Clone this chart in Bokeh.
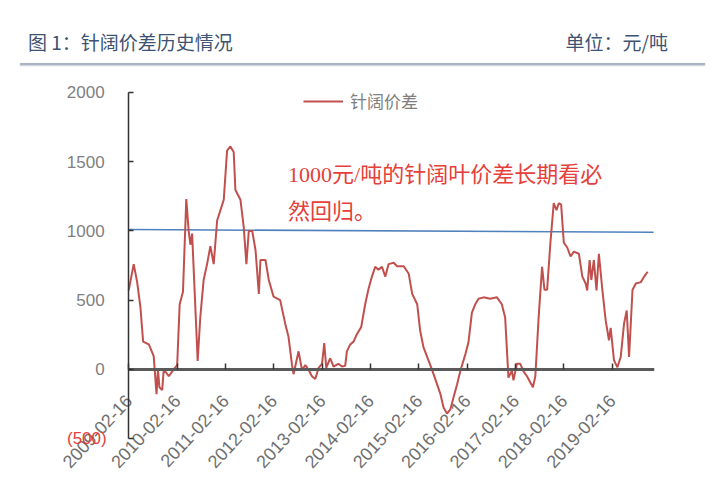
import pandas as pd
from bokeh.plotting import figure
from bokeh.models import (Range1d, FixedTicker, DatetimeAxis, LinearAxis, DatetimeTickFormatter,
                          Label, Legend, LegendItem, Div)
from bokeh.layouts import column
from bokeh.embed import file_html
from bokeh.resources import INLINE

# ---------------- data ----------------
title_left = "图 1：针阔价差历史情况"
title_right = "单位：元/吨"
series_name = "针阔价差"
note_line1 = "1000元/吨的针阔叶价差长期看必"
note_line2 = "然回归。"

dates = [
    "2009-02-16", "2009-03-26", "2009-04-21", "2009-05-16", "2009-06-05", "2009-07-18",
    "2009-08-24", "2009-09-14", "2009-09-25", "2009-10-06", "2009-10-27", "2009-11-08",
    "2009-12-16", "2010-01-22", "2010-02-17", "2010-03-08", "2010-04-02", "2010-04-27",
    "2010-05-15", "2010-05-28", "2010-06-10", "2010-06-22", "2010-07-22", "2010-08-11",
    "2010-09-05", "2010-10-01", "2010-10-26", "2010-11-20", "2010-12-16", "2011-01-10",
    "2011-02-04", "2011-03-01", "2011-03-26", "2011-04-20", "2011-05-03", "2011-06-10",
    "2011-07-05", "2011-07-25", "2011-08-12", "2011-09-07", "2011-10-02", "2011-10-27",
    "2011-11-08", "2011-12-16", "2012-01-10", "2012-02-15", "2012-04-05", "2012-05-13",
    "2012-06-07", "2012-07-03", "2012-07-15", "2012-08-22", "2012-09-17", "2012-10-12",
    "2012-11-03", "2012-12-01", "2012-12-26", "2013-01-20", "2013-02-15", "2013-03-04",
    "2013-03-19", "2013-04-18", "2013-05-13", "2013-06-18", "2013-07-16", "2013-08-09",
    "2013-08-22", "2013-09-16", "2013-10-11", "2013-11-06", "2013-12-08", "2014-01-07",
    "2014-02-01", "2014-02-27", "2014-03-24", "2014-04-18", "2014-05-14", "2014-06-08",
    "2014-07-03", "2014-08-10", "2014-09-05", "2014-10-25", "2014-12-02", "2014-12-28",
    "2015-02-04", "2015-02-26", "2015-03-23", "2015-04-30", "2015-05-26", "2015-07-03",
    "2015-07-28", "2015-08-22", "2015-09-17", "2015-10-12", "2015-11-06", "2015-12-02",
    "2015-12-27", "2016-02-03", "2016-02-26", "2016-03-23", "2016-04-17", "2016-05-12",
    "2016-06-19", "2016-08-08", "2016-09-28", "2016-11-04", "2016-11-29", "2016-12-24",
    "2017-01-19", "2017-01-31", "2017-02-26", "2017-03-23", "2017-04-17", "2017-05-13",
    "2017-06-27", "2017-07-15", "2017-08-09", "2017-09-04", "2017-09-22", "2017-10-12",
    "2017-11-06", "2017-12-01", "2017-12-22", "2018-01-08", "2018-01-26", "2018-02-15",
    "2018-03-13", "2018-04-07", "2018-05-02", "2018-06-09", "2018-07-05", "2018-07-30",
    "2018-08-11", "2018-08-29", "2018-09-11", "2018-09-30", "2018-10-20", "2018-11-07",
    "2018-12-03", "2018-12-28", "2019-01-22", "2019-02-04", "2019-03-01", "2019-03-27",
    "2019-04-21", "2019-05-16", "2019-06-05", "2019-06-23", "2019-07-19", "2019-08-13",
    "2019-09-20", "2019-10-15", "2019-11-10",
]
spread = [
    570, 760, 630, 445, 200, 180,
    95, -180, 0, -130, -150, 0,
    -50, 0, 30, 470, 560, 1230,
    1000, 900, 980, 720, 60, 380,
    645, 760, 890, 760, 1075, 1150,
    1225, 1580, 1610, 1570, 1295, 1225,
    1025, 760, 1000, 1000, 860, 545,
    790, 790, 645, 525, 500, 330,
    235, 35, -35, 130, -5, 30,
    0, -50, -70, 10, 40, 190,
    10, 80, 20, 40, 20, 25,
    130, 180, 200, 255, 305, 470,
    580, 670, 740, 720, 740, 670,
    760, 770, 745, 745, 690, 545,
    470, 280, 160, 65, 0, -105,
    -175, -275, -320, -290, -200, -110,
    -10, 110, 195, 410, 470, 510,
    520, 510, 520, 470, 375, -60,
    -10, -80, 40, 40, -15, -50,
    -130, -50, 375, 740, 575, 575,
    915, 1200, 1150, 1200, 1190, 915,
    880, 815, 850, 835, 670, 620,
    570, 790, 645, 790, 570, 835,
    575, 355, 210, 300, 65, 15,
    90, 330, 425, 90, 575, 620,
    630, 670, 705,
]

ref_dates = ["2009-02-16", "2019-12-25"]
ref_values = [1010, 990]

tick_labels = ["2009-02-16", "2010-02-16", "2011-02-16", "2012-02-16", "2013-02-16",
               "2014-02-16", "2015-02-16", "2016-02-16", "2017-02-16", "2018-02-16",
               "2019-02-16"]
y_ticks = [-500, 0, 500, 1000, 1500, 2000]
y_min, y_max = -500, 2000
neg_label = "(500)"

axis_origin = "2009-02-16"     # where the value axis crosses the time axis
x_view_start = "2007-04-22"    # room left of the value axis for its labels
x_end = "2020-01-01"

# ---------------- styles ----------------
RED = "#c0504d"
BLUE = "#4f81bd"
NOTE_RED = "#e5403a"
GRAY_TXT = "#7f7f7f"
CJK = "Noto Sans CJK SC"


def ms(d):
    return pd.Timestamp(d).value / 1e6


tick_ms = [ms(t) for t in tick_labels]
pad = 108  # value-units of breathing room above/below the value axis

p = figure(width=712, height=417, x_axis_type="datetime", y_axis_location=None,
           x_range=Range1d(ms(x_view_start), ms(x_end)),
           y_range=Range1d(y_min - pad, y_max + pad),
           output_backend="svg", toolbar_location=None,
           min_border_left=40, min_border_right=58, min_border_top=11,
           min_border_bottom=30)
p.outline_line_color = None
p.xgrid.visible = False
p.ygrid.visible = False
p.background_fill_color = "white"

# value axis crossing at the first date
ya = LinearAxis(fixed_location=ms(axis_origin), bounds=(y_min, y_max),
                ticker=FixedTicker(ticks=y_ticks, minor_ticks=[]))
ya.major_label_overrides = {-500: ""}
ya.axis_line_color = "#333333"
ya.axis_line_width = 1.5
ya.major_tick_in = 5
ya.major_tick_out = 0
ya.major_tick_line_color = "#333333"
ya.major_tick_line_width = 1.5
ya.minor_tick_line_color = None
ya.major_label_standoff = 24
ya.major_label_text_font = "Liberation Sans"
ya.major_label_text_font_size = "17px"
ya.major_label_text_color = GRAY_TXT
p.add_layout(ya, "left")

# time axis labels (bottom)
xa = p.xaxis[0]
xa.ticker = FixedTicker(ticks=tick_ms, minor_ticks=[])
xa.formatter = DatetimeTickFormatter(days="%Y-%m-%d", months="%Y-%m-%d", years="%Y-%m-%d")
xa.axis_line_color = None
xa.major_tick_line_color = None
xa.minor_tick_line_color = None
xa.major_label_orientation = 0.82
xa.major_label_standoff = -62
xa.major_label_text_font = "Liberation Sans"
xa.major_label_text_font_size = "18px"
xa.major_label_text_color = "#6f6f6f"

# zero-line axis with ticks
za = DatetimeAxis(fixed_location=0, bounds=(ms(axis_origin), ms(x_end)),
                  ticker=FixedTicker(ticks=tick_ms, minor_ticks=[]))
za.axis_line_color = "#5a5a5a"
za.axis_line_width = 3
za.major_tick_in = 6
za.major_tick_out = 0
za.major_tick_line_color = "#333333"
za.major_tick_line_width = 1.5
za.minor_tick_line_color = None
za.major_label_text_alpha = 0
za.major_label_text_font_size = "1px"
p.add_layout(za, "below")

# lines
p.line(pd.to_datetime(ref_dates), ref_values, color=BLUE, line_width=1.6)
r = p.line(pd.to_datetime(dates), spread, color=RED, line_width=2)

legend = Legend(items=[LegendItem(label=series_name, renderers=[r])],
                location=(263, 340), glyph_width=40, glyph_height=20,
                label_height=20, label_standoff=7, padding=0, margin=0, spacing=0,
                border_line_color=None, background_fill_alpha=0,
                label_text_font=CJK, label_text_font_size="17px",
                label_text_color=GRAY_TXT, label_text_baseline="middle")
p.add_layout(legend)

# annotation texts
note_font = "Liberation Serif, Noto Sans CJK SC"
p.add_layout(Label(x=ms("2012-06-04"), y=1406, text=note_line1, text_align="left",
                   text_baseline="middle", text_color=NOTE_RED,
                   text_font=note_font, text_font_size="22px"))
p.add_layout(Label(x=ms("2012-06-04"), y=1138, text=note_line2, text_align="left",
                   text_baseline="middle", text_color=NOTE_RED,
                   text_font=note_font, text_font_size="22px"))
p.add_layout(Label(x=ms(axis_origin), y=-500, x_offset=-22, text=neg_label,
                   text_align="right", text_baseline="middle", text_color=NOTE_RED,
                   text_font="Liberation Sans", text_font_size="17px"))

title_html = f'''<div style="position:relative;width:712px;height:66px;font-family:'Noto Sans CJK SC',sans-serif;font-size:19px;color:#3d5371;">
<span style="position:absolute;left:28px;top:30px;line-height:24px;white-space:nowrap;">{title_left}</span>
<span style="position:absolute;right:44px;top:30px;line-height:24px;white-space:nowrap;">{title_right}</span>
<div style="position:absolute;left:20px;width:685px;top:63px;height:2px;background:#a9b5c4;box-shadow:0 1px 2px rgba(110,120,140,0.45);"></div>
</div>'''
div = Div(text=title_html, width=712, height=66, margin=(0, 0, 0, 0))

layout = column(div, p, spacing=0)
open("out.html", "w").write(file_html(layout, INLINE))
